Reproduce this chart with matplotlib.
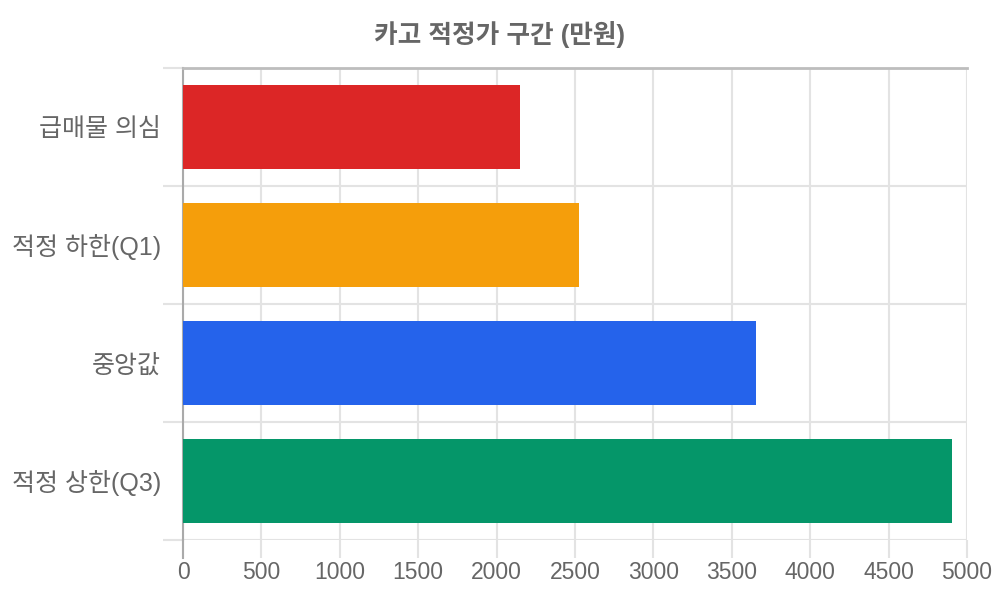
import matplotlib
matplotlib.use("Agg")
import matplotlib.pyplot as plt
import numpy as np

plt.rcParams['font.family'] = ['Liberation Sans', 'Noto Sans CJK KR', 'DejaVu Sans']

# ------------------------------------------------------------------
# data
title = "카고 적정가 구간 (만원)"
categories = ["급매물 의심", "적정 하한(Q1)", "중앙값", "적정 상한(Q3)"]
values = [2150, 2525, 3655, 4905]
bar_colors = ["#DC2626", "#F59E0B", "#2563EB", "#059669"]
x_ticks = list(range(0, 5001, 500))

# ------------------------------------------------------------------
text_color = "#666666"
grid_color = "#e3e3e3"

fig = plt.figure(figsize=(10, 6), dpi=100)
ax = fig.add_axes([0.183, 0.10, 0.784, 0.7867])

y_pos = np.arange(len(categories))
ax.barh(y_pos, values, height=0.72, color=bar_colors, zorder=3)

ax.set_xlim(0, 5000)
ax.set_ylim(len(categories) - 0.5, -0.5)

# category labels on major ticks, grid on the band boundaries
ax.set_yticks(y_pos)
ax.set_yticklabels(categories)
ax.set_yticks(np.arange(-0.5, len(categories), 1.0), minor=True)
ax.tick_params(axis="y", which="major", length=0, pad=16, labelsize=18, labelcolor=text_color)
ax.tick_params(axis="y", which="minor", length=14.5, width=1.5, color=grid_color)
ax.grid(axis="y", which="minor", color=grid_color, linewidth=1.5, zorder=0)

ax.set_xticks(x_ticks)
ax.set_xticklabels([str(v) for v in x_ticks])
ax.tick_params(axis="x", which="major", length=13, width=1.5, color=grid_color,
               pad=2, labelsize=16.5, labelcolor=text_color)
ax.grid(axis="x", which="major", color=grid_color, linewidth=1.5, zorder=0)

for side in ["right", "bottom"]:
    ax.spines[side].set_visible(False)
ax.spines["top"].set_color("#bdbdbd")
ax.spines["top"].set_linewidth(2)
ax.spines["left"].set_color("#aaaaaa")
ax.spines["left"].set_linewidth(1.5)
ax.spines["left"].set_bounds(len(categories) - 0.5, -0.5)
ax.axhline(len(categories) - 0.5, color="#cccccc", linewidth=2, zorder=1)
# left axis line continues down through the tick area
ax.plot([0, 0], [len(categories) - 0.5, len(categories) - 0.5 + 0.15], color="#aaaaaa",
        linewidth=1.5, clip_on=False, zorder=4)

fig.text(0.5, 0.942, title, ha="center", va="center", fontsize=18.5,
         fontweight="bold", color=text_color)

plt.savefig("out.png", dpi=100)
